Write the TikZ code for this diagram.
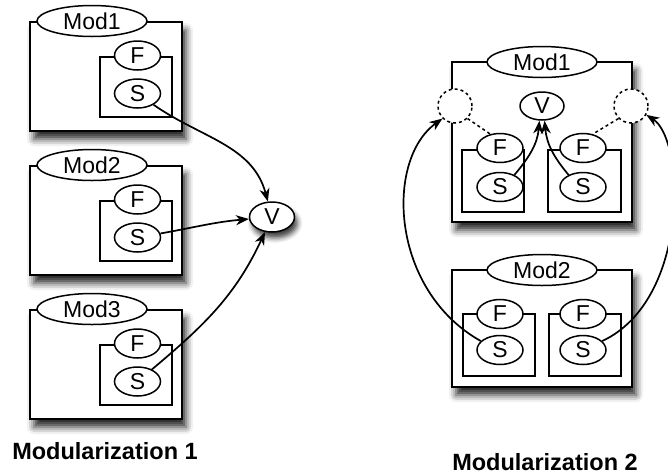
\documentclass[tikz,border=0pt]{standalone}
\usepackage{fontspec}
\setmainfont{Liberation Sans}
\usetikzlibrary{shapes.geometric,arrows.meta,shadows.blur}

\begin{document}
\begin{tikzpicture}[
    x = 1pt, y = -1pt,
    every node/.style = {align=center, font=\fontsize{23}{25}\selectfont},
    >={Stealth[length=13pt, width=10pt, inset=4pt]},
    modbox/.style = {draw, line width=2pt, fill=white, inner sep=0pt,
      blur shadow={shadow xshift=4pt, shadow yshift=-8pt, shadow blur radius=7pt, shadow opacity=85}},
    inbox/.style = {draw, line width=1.5pt, fill=white, inner sep=0pt},
    modname/.style = {ellipse, draw, line width=1.5pt, fill=white, inner sep=0pt,
      minimum width=110pt, minimum height=31pt},
    part/.style = {ellipse, draw, line width=1.5pt, fill=white, inner sep=0pt,
      minimum width=46pt, minimum height=29pt},
    hole/.style = {circle, draw, dashed, line width=1.5pt, fill=white, inner sep=0pt,
      minimum size=34pt},
    flow/.style = {->, line width=1.7pt},
    title/.style = {font=\fontsize{23.5}{26}\selectfont\bfseries}
  ]
  \useasboundingbox (0,0) rectangle (668,475);

  % Modularization 1
  \node (A1) [modbox, minimum width=152pt, minimum height=109pt] at (106,76.5) {};
  \node (A2) [modbox, minimum width=152pt, minimum height=109pt] at (106,220.5) {};
  \node (A3) [modbox, minimum width=152pt, minimum height=109pt] at (106,364.5) {};
  \node (nA1) [modname] at (92,21) {Mod1};
  \node (nA2) [modname] at (92,165) {Mod2};
  \node (nA3) [modname] at (92,309) {Mod3};
  \node (iA1) [inbox, minimum width=72pt, minimum height=60pt] at (136,87) {};
  \node (iA2) [inbox, minimum width=72pt, minimum height=60pt] at (136,231) {};
  \node (iA3) [inbox, minimum width=72pt, minimum height=60pt] at (136,375) {};
  \node (fA1) [part] at (137.5,55.5) {F};
  \node (fA2) [part] at (137.5,199.5) {F};
  \node (fA3) [part] at (137.5,343.5) {F};
  \node (sA1) [part] at (137.5,93.5) {S};
  \node (sA2) [part] at (137.5,237.5) {S};
  \node (sA3) [part] at (137.5,381.5) {S};
  \node (vA) [part, minimum width=45pt, minimum height=30pt,
    blur shadow={shadow xshift=3pt, shadow yshift=-6pt, shadow blur radius=5pt, shadow opacity=75}] at (272,217) {V};

  \draw[flow] (sA1) to[out=-35,in=105] (vA);
  \draw[flow] (sA2) to[out=10,in=185] (vA);
  \draw[flow] (sA3) to[out=40,in=-115] (vA);

  \node (T1) [title] at (105,451) {Modularization 1};

  % Modularization 2
  \node (B1) [modbox, minimum width=180pt, minimum height=160pt] at (542,142) {};
  \node (B2) [modbox, minimum width=180pt, minimum height=117pt] at (542,328.5) {};
  \node (nB1) [modname] at (542,62) {Mod1};
  \node (nB2) [modname] at (542,270) {Mod2};
  \node (hL) [hole] at (455,106) {};
  \node (hR) [hole] at (631,106) {};
  \node (vB) [part, minimum width=44pt, minimum height=28pt] at (542,106) {V};
  \node (iL1) [inbox, minimum width=62pt, minimum height=62pt] at (493,181) {};
  \node (iR1) [inbox, minimum width=73pt, minimum height=62pt] at (584.5,181) {};
  \node (iL2) [inbox, minimum width=72pt, minimum height=62pt] at (499,345) {};
  \node (iR2) [inbox, minimum width=72pt, minimum height=62pt] at (585,345) {};
  \node (fL1) [part] at (500,148) {F};
  \node (fR1) [part] at (583,148) {F};
  \node (sL1) [part] at (500,187) {S};
  \node (sR1) [part] at (583,187) {S};
  \node (fL2) [part] at (500,314) {F};
  \node (fR2) [part] at (583,314) {F};
  \node (sL2) [part] at (500,350) {S};
  \node (sR2) [part] at (583,350) {S};

  \draw[dashed, line width=1.5pt] (hL.-45) -- (fL1.125);
  \draw[dashed, line width=1.5pt] (hR.-135) -- (fR1.55);
  \draw[flow] (sL1.40) to[out=50,in=-95] (vB.-100);
  \draw[flow] (sR1.140) to[out=130,in=-85] (vB.-80);
  \draw[flow] (sL2.155) .. controls (390,290) and (385,160) .. (hL.-135);
  \draw[flow] (sR2.25) .. controls (690,300) and (685,140) .. (hR.-30);

  \node (T2) [title] at (545,462) {Modularization 2};

\end{tikzpicture}
\end{document}
